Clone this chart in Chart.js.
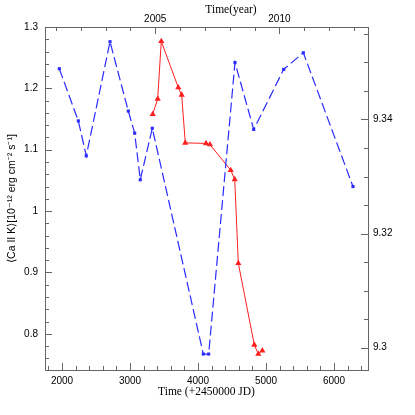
<!DOCTYPE html>
<html>
<head>
<meta charset="utf-8">
<script src="https://cdn.jsdelivr.net/npm/chart.js@4"></script>
<style>
  html, body { margin: 0; padding: 0; background: #fff; }
  canvas { display: block; }
</style>
</head>
<body>
<canvas id="caChart" width="415" height="415"></canvas>
<script>
// blue series: <Ca II K>, left axis
const blueJD = [1960, 2240, 2357, 2706, 2975, 3069, 3151, 3328, 4078, 4157, 4544, 4819, 5260, 5549, 6279];
const blueCa = [1.232, 1.147, 1.090, 1.276, 1.163, 1.127, 1.051, 1.135, 0.767, 0.767, 1.242, 1.133, 1.231, 1.258, 1.040];

// red series: right axis
const redJD = [3334, 3407, 3460, 3710, 3760, 3813, 4118, 4176, 4481, 4540, 4593, 4828, 4887, 4946];
const redVal = [9.3409, 9.3436, 9.3537, 9.3456, 9.3443, 9.3359, 9.3358, 9.3356, 9.3311, 9.3295, 9.3148, 9.3005, 9.2989, 9.2995];

// tick labels
const jdLabels = [2000, 3000, 4000, 5000, 6000];
const yearLabels = [2005, 2010];
const leftLabels = [0.8, 0.9, 1, 1.1, 1.2, 1.3];
const rightLabels = [9.3, 9.32, 9.34];

const jdMin = 1750, jdMax = 6500;
const toYear = jd => 2000 + (jd - 1545) / 365.25;

function steps(from, to, step) {
  const out = [];
  const n = Math.round((to - from) / step);
  for (let i = 0; i <= n; i++) out.push(+(from + i * step).toFixed(4));
  return out;
}
const isLabel = (list, v) => list.some(l => Math.abs(l - v) < 1e-6);
const fmt = v => String(+v.toFixed(3));

const tickSets = {
  x: steps(1800, 6400, 200),
  xTop: steps(2001, 2013, 1),
  y: steps(0.76, 1.3, 0.02),
  y2: steps(9.30, 9.355, 0.005)
};
const labelSets = { x: jdLabels, xTop: yearLabels, y: leftLabels, y2: rightLabels };

const tickFont = { family: 'Liberation Sans', size: 10 };
const frameColor = '#666';

// inward ticks, frame and top title
const framePlugin = {
  id: 'frame',
  afterDraw(chart) {
    const { ctx, chartArea: a } = chart;
    ctx.save();
    ctx.strokeStyle = frameColor;
    ctx.lineWidth = 1;
    ctx.strokeRect(a.left + 0.5, a.top + 0.5, a.right - a.left, a.bottom - a.top);
    ctx.beginPath();
    for (const id of Object.keys(tickSets)) {
      const s = chart.scales[id];
      for (const v of tickSets[id]) {
        const len = isLabel(labelSets[id], v) ? 7 : 4;
        const p = Math.round(s.getPixelForValue(v)) + 0.5;
        if (id === 'x') { ctx.moveTo(p, a.bottom); ctx.lineTo(p, a.bottom - len); }
        if (id === 'xTop') { ctx.moveTo(p, a.top); ctx.lineTo(p, a.top + len); }
        if (id === 'y') { ctx.moveTo(a.left, p); ctx.lineTo(a.left + len, p); }
        if (id === 'y2') { ctx.moveTo(a.right, p); ctx.lineTo(a.right - len, p); }
      }
    }
    ctx.stroke();
    ctx.fillStyle = '#000';
    ctx.font = '11.5px "Liberation Serif"';
    ctx.textAlign = 'center';
    ctx.textBaseline = 'middle';
    ctx.fillText('Time(year)', 231, 10);
    ctx.restore();
  }
};

function axis(id, extra) {
  return Object.assign({
    type: 'linear',
    grid: { display: false, drawTicks: false },
    border: { display: false },
    afterBuildTicks: s => { s.ticks = tickSets[id].map(v => ({ value: v })); },
    ticks: {
      autoSkip: false,
      maxRotation: 0,
      color: '#000',
      font: tickFont,
      callback: v => isLabel(labelSets[id], v) ? fmt(v) : ''
    }
  }, extra);
}

const scales = {
  x: axis('x', {
    position: 'bottom', min: jdMin, max: jdMax,
    afterFit: s => { s.height = 45; },
    title: { display: true, text: 'Time (+2450000 JD)', color: '#000',
             font: { family: 'Liberation Serif', size: 11.5 }, padding: { top: 0, bottom: 16 } }
  }),
  xTop: axis('xTop', {
    position: 'top', min: toYear(jdMin), max: toYear(jdMax),
    afterFit: s => { s.height = 27; }
  }),
  y: axis('y', {
    position: 'left', min: 0.741, max: 1.3,
    afterFit: s => { s.width = 45; },
    title: { display: true, text: '\u27E8Ca II K\u27E9[10\u207B\u00B9\u00B2 erg cm\u207B\u00B2 s\u207B\u00B9]',
             color: '#000', font: { family: 'Liberation Sans', size: 10.5 }, padding: { top: 6, bottom: 0 } }
  }),
  y2: axis('y2', {
    position: 'right', min: 9.2961, max: 9.3562,
    afterFit: s => { s.width = 47; }
  })
};
scales.x.ticks.padding = 5;
scales.xTop.ticks.padding = 2;
scales.y.ticks.padding = 7;
scales.y2.ticks.padding = 5;

new Chart(document.getElementById('caChart').getContext('2d'), {
  type: 'line',
  data: {
    datasets: [{
      label: 'Ca II K',
      data: blueJD.map((x, i) => ({ x, y: blueCa[i] })),
      xAxisID: 'x', yAxisID: 'y',
      borderColor: '#2a2aff', backgroundColor: '#2a2aff',
      borderWidth: 1.2, borderDash: [10, 4],
      pointStyle: 'rect', pointRadius: 2.2, pointBorderWidth: 0,
      tension: 0
    }, {
      label: 'right',
      data: redJD.map((x, i) => ({ x, y: redVal[i] })),
      xAxisID: 'x', yAxisID: 'y2',
      borderColor: '#ff1f1f', backgroundColor: '#ff1f1f',
      borderWidth: 1,
      pointStyle: 'triangle', pointRadius: 3.6, pointBorderWidth: 0,
      tension: 0
    }]
  },
  options: {
    responsive: false,
    animation: false,
    layout: { padding: 0 },
    plugins: { legend: { display: false }, tooltip: { enabled: false } },
    scales
  },
  plugins: [framePlugin]
});
</script>
</body>
</html>
